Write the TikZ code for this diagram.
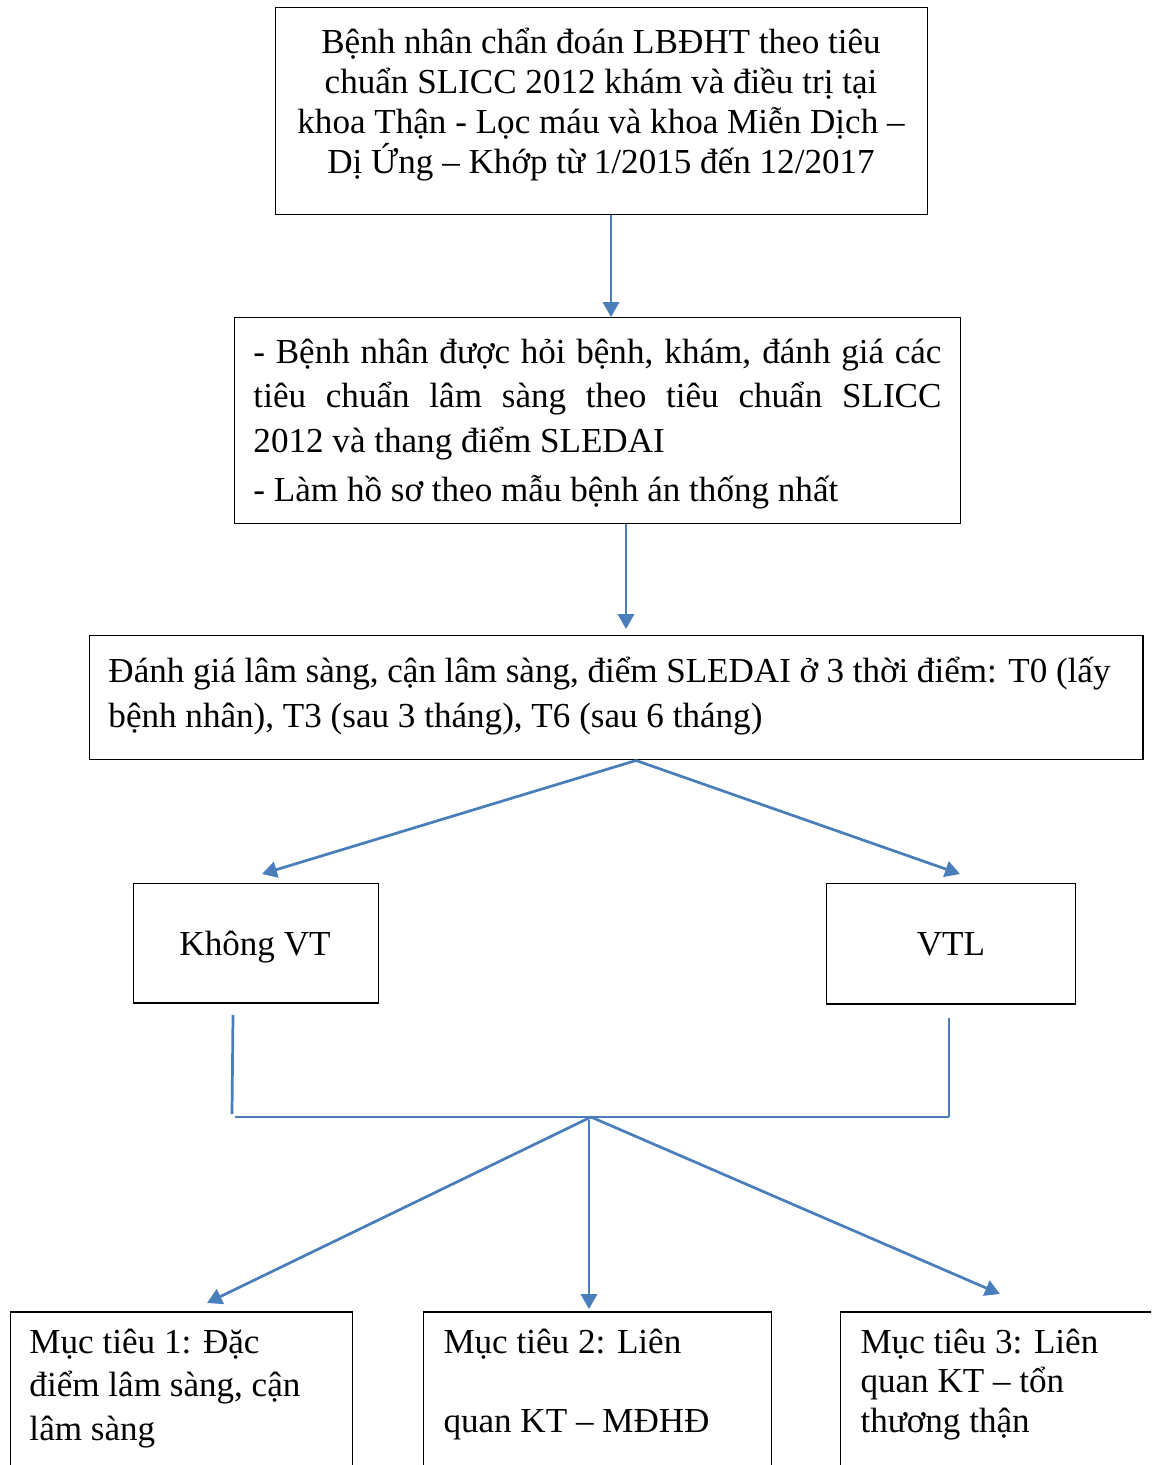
\documentclass[tikz,border=0pt]{standalone}
\usepackage{fontspec}
\setmainfont{Liberation Serif}
\usetikzlibrary{arrows.meta}
\definecolor{arrowblue}{HTML}{4A7EBB}
\def\u{0.4032pt}
\def\fs{14.15}
\begin{document}
\begin{tikzpicture}[x=0.4032pt,y=-0.4032pt,
  box/.style={draw=black,line width=0.6pt,inner sep=0,anchor=north west},
  txt/.style={inner sep=0},
  arr/.style={draw=arrowblue,line width=1.1pt,-{Triangle[length=6pt,width=6.5pt]}},
  ln/.style={draw=arrowblue,line width=1.1pt}]
\useasboundingbox (0,0) rectangle (1151,1465);
\clip (0,0) rectangle (1151,1465);
% boxes
\node[box,minimum width=652*\u,minimum height=207*\u] (b1) at (275,7) {};
\node[box,minimum width=726*\u,minimum height=206*\u] (b2) at (234,317) {};
\node[box,minimum width=1053*\u,minimum height=124*\u] (b3) at (89,635) {};
\node[box,minimum width=245*\u,minimum height=119*\u] (kvt) at (133,883) {};
\node[box,minimum width=249*\u,minimum height=120*\u] (vtl) at (826,883) {};
\node[box,minimum width=342*\u,minimum height=200*\u] (m1) at (10,1311) {};
\node[box,minimum width=348*\u,minimum height=200*\u] (m2) at (423,1311) {};
\node[box,minimum width=400*\u,minimum height=200*\u] (m3) at (840,1311) {};
% texts
\node[txt,anchor=north,align=center,font=\fontsize{\fs}{16.13}\selectfont] (t1) at (601,18)
  {\rule{0pt}{14pt}Bệnh nhân chẩn đoán LBĐHT theo tiêu\\chuẩn SLICC 2012 khám và điều trị tại\\khoa Thận - Lọc máu và khoa Miễn Dịch –\\Dị Ứng – Khớp từ 1/2015 đến 12/2017};
\node[txt,anchor=north west,align=left,font=\fontsize{\fs}{17.94}\selectfont] (t2) at (253,328)
  {\rule{0pt}{14pt}\makebox[277.4pt][s]{- Bệnh nhân được hỏi bệnh, khám, đánh giá các}\\\makebox[277.4pt][s]{tiêu chuẩn lâm sàng theo tiêu chuẩn SLICC}\\2012 và thang điểm SLEDAI\\[1.8pt]- Làm hồ sơ theo mẫu bệnh án thống nhất};
\node[txt,anchor=north west,align=left,font=\fontsize{\fs}{18.14}\selectfont] (t3) at (108,647)
  {\rule{0pt}{14pt}\makebox[404pt][s]{Đánh giá lâm sàng, cận lâm sàng, điểm SLEDAI ở 3 thời điểm: T0 (lấy}\\bệnh nhân), T3 (sau 3 tháng), T6 (sau 6 tháng)};
\node[txt,anchor=base,font=\fontsize{\fs}{16}\selectfont] (tk) at (255,955) {Không VT};
\node[txt,anchor=base,font=\fontsize{\fs}{16}\selectfont] (tv) at (951,955) {VTL};
\node[txt,anchor=north west,align=left,font=\fontsize{\fs}{17.5}\selectfont] (tm1) at (29,1318)
  {\rule{0pt}{14pt}Mục tiêu 1: Đặc\\điểm lâm sàng, cận\\lâm sàng};
\node[txt,anchor=north west,align=left,font=\fontsize{\fs}{17.7}\selectfont] (tm2) at (443,1318)
  {\rule{0pt}{14pt}Mục tiêu 2: Liên\\[14.2pt]quan KT – MĐHĐ};
\node[txt,anchor=north west,align=left,font=\fontsize{\fs}{15.9}\selectfont] (tm3) at (860,1318)
  {\rule{0pt}{14pt}Mục tiêu 3: Liên\\quan KT – tổn\\thương thận};
% helper coordinates
\coordinate (x611) at (611,0);
\coordinate (x626) at (626,0);
\coordinate (x636) at (636,0);
\coordinate (tipL) at (262,874);
\coordinate (tipR) at (960,874);
\coordinate (l1) at (233,1015);
\coordinate (l2) at (232,1114);
\coordinate (h1) at (235,1117);
\coordinate (h2) at (949,1117);
\coordinate (r1) at (949,1018);
\coordinate (J) at (591,1117);
\coordinate (Jm) at (589,1120);
\coordinate (tm1t) at (207,1303);
\coordinate (tm2t) at (589,1309);
\coordinate (tm3t) at (1000,1294);
% connectors
\draw[arr] (b1.south -| x611) -- (b2.north -| x611);
\draw[arr,shorten >=2.4pt] (b2.south -| x626) -- (b3.north -| x626);
\draw[arr] (b3.south -| x636) -- (tipL);
\draw[arr] (b3.south -| x636) -- (tipR);
\draw[ln] (l1) -- (l2);
\draw[ln] (h1) -- (h2);
\draw[ln] (r1) -- (h2);
\draw[arr] (J) -- (tm1t);
\draw[arr] (Jm) -- (tm2t);
\draw[arr] (J) -- (tm3t);
\end{tikzpicture}
\end{document}
